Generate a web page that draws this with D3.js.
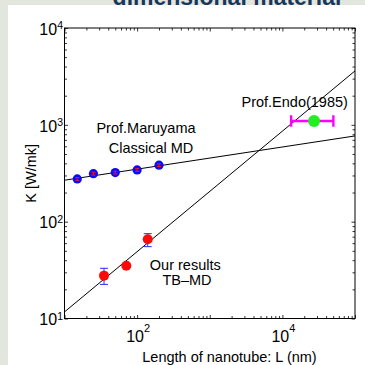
<!DOCTYPE html>
<html>
<head>
<meta charset="utf-8">
<script src="https://cdn.jsdelivr.net/npm/d3@7"></script>
<style>
  html, body { margin: 0; padding: 0; background: #e3e6dc; }
  svg { display: block; font-family: "Liberation Sans", Arial, Helvetica, sans-serif; }
</style>
</head>
<body>
<div id="chart"></div>
<script>
// Prof. Maruyama, classical MD (blue)
const maruyamaL = [15, 25, 50, 100, 200];
const maruyamaK = [276, 313, 321, 342, 383];
const maruyamaLo = [267, 303, 311, 331, 371];
const maruyamaHi = [285, 323, 331, 353, 395];

// our results, TB-MD (red)
const tbL = [35, 71, 140];
const tbK = [27.7, 35.1, 65.8];
const tbLo = [22.5, null, 55.2];
const tbHi = [33.0, null, 75.2];

// Prof. Endo (1985) (green)
const endoL = [27300];
const endoK = [1097];
const endoLLo = [13200];
const endoLHi = [50400];

// fitted lines, end points [L, K]
const fitTB = [[10, 11.7], [100000, 3605]];
const fitMaruyama = [[10, 268], [100000, 768]];

const xDecades = [10, 100, 1000, 10000, 100000];
const yDecades = [10, 100, 1000, 10000];
const xTickLabels = [{ v: 100, e: '2' }, { v: 10000, e: '4' }];
const yTickLabels = [{ v: 10, e: '1' }, { v: 100, e: '2' }, { v: 1000, e: '3' }, { v: 10000, e: '4' }];

const W = 365, H = 365;
const margin = { top: 28, right: 10, bottom: 46.5, left: 64.5 };
const innerW = W - margin.left - margin.right;
const innerH = H - margin.top - margin.bottom;

const svg = d3.select('#chart').append('svg')
    .attr('width', W)
    .attr('height', H);

// slide background + white figure area
svg.append('rect').attr('width', W).attr('height', H).attr('fill', '#e3e6dc');
svg.append('rect').attr('x', 8).attr('y', 5).attr('width', W - 8).attr('height', H - 5).attr('fill', '#fff');

svg.append('text')
    .attr('x', 227).attr('y', 5)
    .attr('text-anchor', 'middle')
    .attr('font-size', 23)
    .attr('font-weight', 'bold')
    .attr('fill', '#17375e')
    .text('dimensional material');

const x = d3.scaleLog().domain([10, 100000]).range([0, innerW]);
const y = d3.scaleLog().domain([10, 10000]).range([innerH, 0]);

const g = svg.append('g')
    .attr('transform', `translate(${margin.left},${margin.top})`);

g.append('clipPath').attr('id', 'clip')
    .append('rect').attr('width', innerW).attr('height', innerH);

function minors(decades) {
    const out = [];
    decades.slice(0, -1).forEach(d => { for (let k = 2; k <= 9; k++) out.push(d * k); });
    return out;
}
const xMinor = minors(xDecades);
const yMinor = minors(yDecades);

// inward ticks on all four sides
function drawAxis(axisFn, scale, values, len, transform) {
    g.append('g')
        .attr('class', 'axis')
        .attr('transform', transform)
        .call(axisFn(scale).tickValues(values).tickSize(-len).tickFormat(''))
        .call(a => a.select('.domain').remove());
}
drawAxis(d3.axisBottom, x, xDecades, 3.5, `translate(0,${innerH})`);
drawAxis(d3.axisBottom, x, xMinor, 2.5, `translate(0,${innerH})`);
drawAxis(d3.axisTop, x, xDecades, 3.5, 'translate(0,0)');
drawAxis(d3.axisTop, x, xMinor, 2.5, 'translate(0,0)');
drawAxis(d3.axisLeft, y, yDecades, 3.5, 'translate(0,0)');
drawAxis(d3.axisLeft, y, yMinor, 2.5, 'translate(0,0)');
drawAxis(d3.axisRight, y, yDecades, 3.5, `translate(${innerW},0)`);
drawAxis(d3.axisRight, y, yMinor, 2.5, `translate(${innerW},0)`);
g.selectAll('.axis line').attr('stroke', '#000').attr('stroke-width', 0.8);

g.append('rect')
    .attr('width', innerW).attr('height', innerH)
    .attr('fill', 'none').attr('stroke', '#000').attr('stroke-width', 1);

// tick labels with superscripts
const xl = g.selectAll('.xlab').data(xTickLabels).enter().append('text')
    .attr('class', 'xlab')
    .attr('x', d => x(d.v) + 1)
    .attr('y', innerH + 23)
    .attr('text-anchor', 'middle')
    .attr('font-size', 16);
xl.append('tspan').text('10');
xl.append('tspan').attr('dy', -10).attr('font-size', 11).text(d => d.e);

const yl = g.selectAll('.ylab').data(yTickLabels).enter().append('text')
    .attr('class', 'ylab')
    .attr('x', -1.5)
    .attr('y', d => y(d.v) + 6.7)
    .attr('text-anchor', 'end')
    .attr('font-size', 16);
yl.append('tspan').text('10');
yl.append('tspan').attr('dy', -5.5).attr('font-size', 10.5).text(d => d.e);

// axis titles
g.append('text')
    .attr('x', 165).attr('y', innerH + 43)
    .attr('text-anchor', 'middle')
    .attr('font-size', 14.5)
    .text('Length of nanotube: L (nm)');

g.append('text')
    .attr('transform', 'rotate(-90)')
    .attr('x', -innerH / 2).attr('y', -29)
    .attr('text-anchor', 'middle')
    .attr('font-size', 14.5)
    .text('K [W/mk]');

// fit lines
const line = d3.line().x(d => x(d[0])).y(d => y(d[1]));
const plot = g.append('g').attr('clip-path', 'url(#clip)');
[fitTB, fitMaruyama].forEach(f => {
    plot.append('path').datum(f)
        .attr('d', line)
        .attr('fill', 'none')
        .attr('stroke', '#000')
        .attr('stroke-width', 1);
});

// vertical error bar helper
function vErr(sel, L, lo, hi, color, cap, width) {
    L.forEach((l, i) => {
        if (lo[i] == null) return;
        const cx = x(l), y0 = y(lo[i]), y1 = y(hi[i]);
        const eg = sel.append('g').attr('stroke', color).attr('stroke-width', width);
        eg.append('line').attr('x1', cx).attr('x2', cx).attr('y1', y0).attr('y2', y1);
        eg.append('line').attr('x1', cx - cap).attr('x2', cx + cap).attr('y1', y0).attr('y2', y0);
        eg.append('line').attr('x1', cx - cap).attr('x2', cx + cap).attr('y1', y1).attr('y2', y1);
    });
}

// Maruyama points
plot.selectAll('.mar').data(maruyamaL).enter().append('circle')
    .attr('class', 'mar')
    .attr('cx', d => x(d))
    .attr('cy', (d, i) => y(maruyamaK[i]))
    .attr('r', 4.6)
    .attr('fill', '#0a0aff');
vErr(plot, maruyamaL, maruyamaLo, maruyamaHi, '#ff1010', 2, 1);

// TB-MD points
vErr(plot, tbL, tbLo, tbHi, '#2a2aff', 4, 1);
plot.selectAll('.tb').data(tbL).enter().append('circle')
    .attr('class', 'tb')
    .attr('cx', d => x(d))
    .attr('cy', (d, i) => y(tbK[i]))
    .attr('r', 5)
    .attr('fill', '#ff0a0a');

// Endo point with horizontal error bar
endoL.forEach((l, i) => {
    const cy = y(endoK[i]), x0 = x(endoLLo[i]), x1 = x(endoLHi[i]);
    const eg = plot.append('g').attr('stroke', '#ff00ff').attr('stroke-width', 2.4);
    eg.append('line').attr('x1', x0).attr('x2', x1).attr('y1', cy).attr('y2', cy);
    eg.append('line').attr('x1', x0).attr('x2', x0).attr('y1', cy - 5.7).attr('y2', cy + 5.7);
    eg.append('line').attr('x1', x1).attr('x2', x1).attr('y1', cy - 5.7).attr('y2', cy + 5.7);
    plot.append('circle')
        .attr('cx', x(l)).attr('cy', cy)
        .attr('r', 6)
        .attr('fill', '#22ee22');
});

// annotations
const notes = [
    { t: 'Prof.Maruyama', x: 146, y: 133 },
    { t: 'Classical MD', x: 151, y: 153 },
    { t: 'Prof.Endo(1985)', x: 294.7, y: 106.7 },
    { t: 'Our results', x: 185.3, y: 270 },
    { t: 'TB\u2013MD', x: 187, y: 284.5 }
];
svg.selectAll('.note').data(notes).enter().append('text')
    .attr('class', 'note')
    .attr('x', d => d.x).attr('y', d => d.y)
    .attr('text-anchor', 'middle')
    .attr('font-size', 14.5)
    .text(d => d.t);
</script>
</body>
</html>
